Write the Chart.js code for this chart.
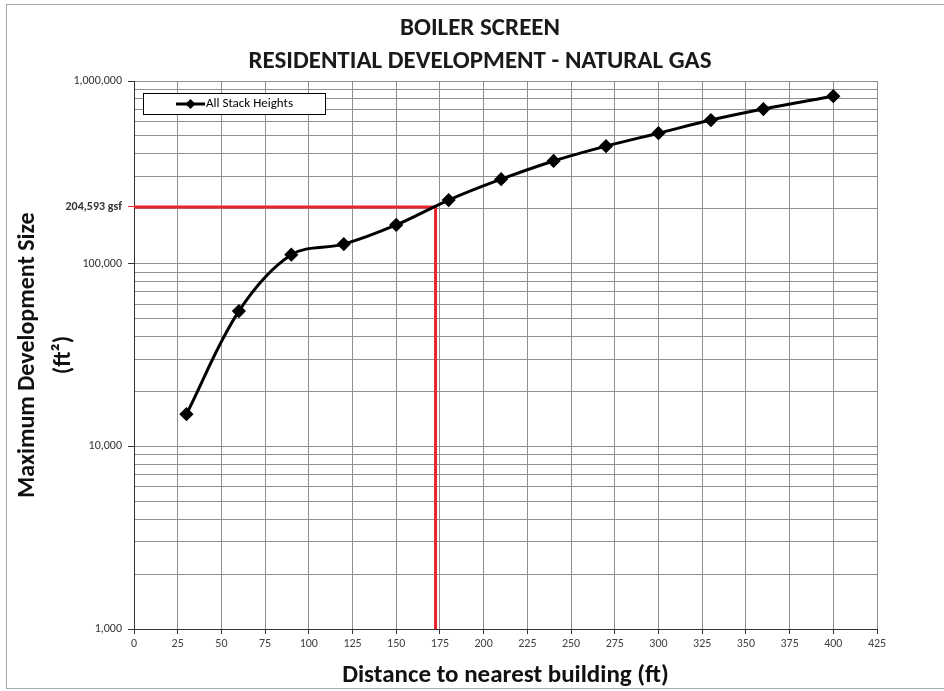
<!DOCTYPE html>
<html>
<head>
<meta charset="utf-8">
<script src="https://cdn.jsdelivr.net/npm/chart.js@4"></script>
<style>
  html, body { margin: 0; padding: 0; background: #fff; }
  canvas { display: block; }
</style>
</head>
<body>
<canvas id="boiler" width="944" height="691"></canvas>
<script>
/* Data */
var distances   = [30, 60, 90, 120, 150, 180, 210, 240, 270, 300, 330, 360, 400];
var maxDevSize  = [15000, 55000, 112000, 128000, 163000, 223000, 290000, 365000, 440000, 518000, 611000, 702000, 826000];
var titleLines  = ['BOILER SCREEN', 'RESIDENTIAL DEVELOPMENT - NATURAL GAS'];
var seriesLabel = 'All Stack Heights';
var thresholdSize = 204593;
var thresholdDist = 172.5;
var xMin = 0, xMax = 425, xStep = 25;
var yMin = 1000, yMax = 1000000;
var yMajorTicks = [1000, 10000, 100000, 1000000];
var yMinorMult  = [2, 3, 4, 5, 6, 7, 8, 9];

var FONT = "Carlito, Lato, 'Open Sans', sans-serif";

/* log tick list: decades + 2..9 minors + the highlighted threshold */
var yTicks = [];
yMajorTicks.forEach(function (d) {
  yTicks.push(d);
  if (d < yMax) yMinorMult.forEach(function (m) { yTicks.push(d * m); });
});
yTicks.push(thresholdSize);
yTicks.sort(function (a, b) { return a - b; });

function isMajor(v) { return yMajorTicks.indexOf(v) !== -1; }

var xyData = distances.map(function (d, i) { return { x: d, y: maxDevSize[i] }; });
var thresholdData = [
  { x: xMin, y: thresholdSize },
  { x: thresholdDist, y: thresholdSize },
  { x: thresholdDist, y: yMin }
];

/* white page + thin grey frame + the two title lines */
var framePlugin = {
  id: 'frame',
  beforeDraw: function (chart) {
    var c = chart.ctx;
    c.save();
    c.fillStyle = '#fff';
    c.fillRect(0, 0, chart.width, chart.height);
    c.strokeStyle = '#a8a8a8';
    c.lineWidth = 1;
    c.strokeRect(6.5, 4.5, chart.width + 10, chart.height - 7);
    c.fillStyle = '#1a1a1a';
    c.font = 'bold 25px ' + FONT;
    c.textAlign = 'center';
    c.textBaseline = 'middle';
    c.fillText(titleLines[0], 480, 29);
    c.fillText(titleLines[1], 480, 62);
    c.restore();
  }
};

/* boxed legend inside plot area, Excel style */
var legendBoxPlugin = {
  id: 'legendBox',
  afterDraw: function (chart) {
    var a = chart.chartArea, c = chart.ctx;
    var x = a.left + 9, y = a.top + 12, w = 182, h = 21;
    c.save();
    c.fillStyle = '#fff';
    c.fillRect(x, y, w, h);
    c.strokeStyle = '#000';
    c.lineWidth = 1;
    c.strokeRect(x + 0.5, y + 0.5, w, h);
    var my = y + h / 2 + 0.5;
    c.lineWidth = 3;
    c.beginPath();
    c.moveTo(x + 33, my);
    c.lineTo(x + 62, my);
    c.stroke();
    c.fillStyle = '#000';
    c.beginPath();
    c.moveTo(x + 47.5, my - 5);
    c.lineTo(x + 52.5, my);
    c.lineTo(x + 47.5, my + 5);
    c.lineTo(x + 42.5, my);
    c.closePath();
    c.fill();
    c.font = '13px ' + FONT;
    c.textBaseline = 'middle';
    c.fillText(chart.data.datasets[0].label, x + 63, my);
    c.restore();
  }
};

new Chart(document.getElementById('boiler').getContext('2d'), {
  type: 'scatter',
  data: {
    datasets: [
      {
        label: seriesLabel,
        data: xyData,
        showLine: true,
        borderColor: '#000',
        backgroundColor: '#000',
        borderWidth: 3,
        tension: 0.35,
        pointStyle: 'rectRot',
        pointRadius: 5,
        pointHoverRadius: 5,
        order: 0
      },
      {
        label: 'threshold',
        data: thresholdData,
        showLine: true,
        borderColor: '#e8232b',
        borderWidth: 3,
        tension: 0,
        pointRadius: 0,
        order: 1
      }
    ]
  },
  options: {
    responsive: false,
    animation: false,
    layout: { padding: { left: 0, right: 67, top: 81, bottom: 0 } },
    plugins: {
      legend: { display: false },
      tooltip: { enabled: false },
      title: { display: false }
    },
    scales: {
      x: {
        type: 'linear',
        min: xMin,
        max: xMax,
        afterFit: function (s) { s.height = 62; },
        ticks: {
          stepSize: xStep,
          color: '#404040',
          font: { family: FONT, size: 12 },
          padding: 3,
          maxRotation: 0
        },
        grid: { color: '#8f8f8f', lineWidth: 1, tickLength: 5, tickColor: '#333' },
        border: { color: '#333', width: 1 },
        title: {
          display: true,
          text: 'Distance to nearest building (ft)',
          color: '#111',
          font: { family: FONT, size: 25, weight: 'bold' },
          padding: { top: 3, bottom: 0 }
        }
      },
      y: {
        type: 'logarithmic',
        min: yMin,
        max: yMax,
        afterFit: function (s) { s.width = 134; },
        afterBuildTicks: function (s) {
          s.ticks = yTicks.map(function (v) { return { value: v }; });
        },
        ticks: {
          autoSkip: false,
          color: '#333',
          padding: 6,
          font: function (ctx) {
            if (ctx.tick && ctx.tick.value === thresholdSize) return { family: FONT, size: 12, weight: 'bold' };
            return { family: FONT, size: 12 };
          },
          callback: function (v) {
            if (v === thresholdSize) return v.toLocaleString('en-US') + ' gsf';
            return isMajor(v) ? v.toLocaleString('en-US') : '';
          }
        },
        grid: {
          lineWidth: 1,
          tickLength: 6,
          color: function (ctx) {
            return ctx.tick && ctx.tick.value === thresholdSize ? 'rgba(0,0,0,0)' : '#8f8f8f';
          },
          tickColor: function (ctx) {
            if (ctx.tick && ctx.tick.value === thresholdSize) return '#e8232b';
            return ctx.tick && isMajor(ctx.tick.value) ? '#333' : 'rgba(0,0,0,0)';
          }
        },
        border: { color: '#333', width: 1 },
        title: {
          display: true,
          text: ['Maximum Development Size', '(ft\u00B2)'],
          color: '#111',
          font: { family: FONT, size: 24, weight: 'bold', lineHeight: 1.5 },
          padding: { top: 10, bottom: 0 }
        }
      }
    }
  },
  plugins: [framePlugin, legendBoxPlugin]
});
</script>
</body>
</html>
